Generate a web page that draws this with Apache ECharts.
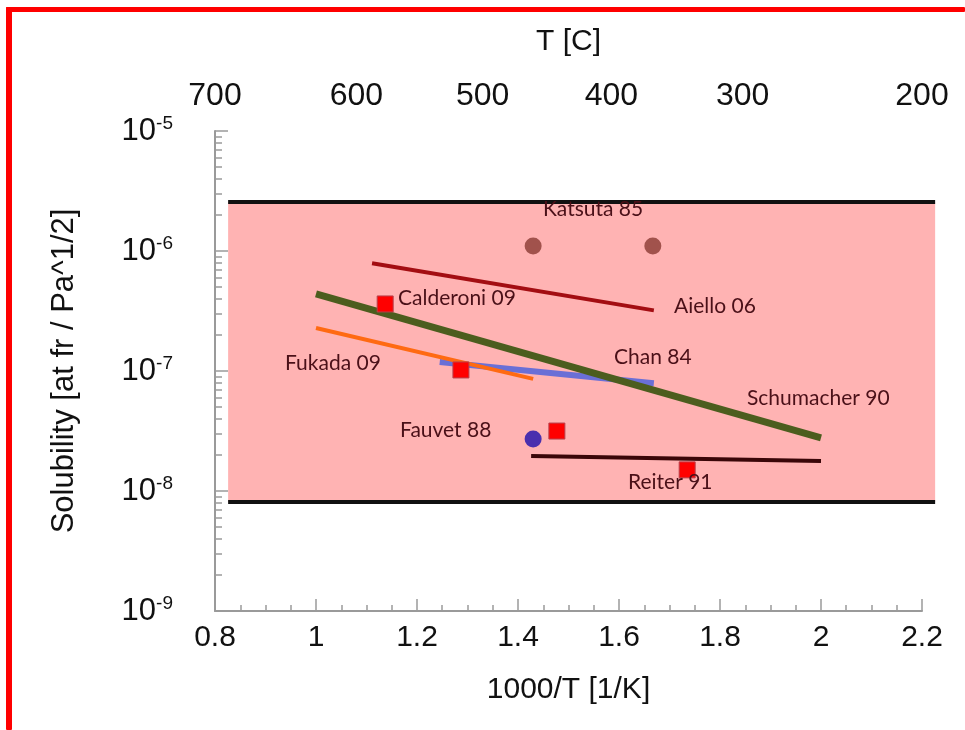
<!DOCTYPE html>
<html>
<head>
<meta charset="utf-8">
<style>
  html, body { margin: 0; padding: 0; background: #fff; }
  #main { width: 965px; height: 730px; }
</style>
<script src="https://cdn.jsdelivr.net/npm/echarts@6/dist/echarts.min.js"></script>
</head>
<body>
<div id="main"></div>
<script>
// data: [1000/T, solubility]
const katsuta = [[1.430, 1.10e-6], [1.667, 1.10e-6]];
const aiello = [[1.111, 7.9e-7], [1.669, 3.2e-7]];
const schumacher = [[1.0, 4.4e-7], [2.0, 2.77e-8]];
const fukada = [[1.0, 2.28e-7], [1.43, 8.6e-8]];
const chan = [[1.245, 1.19e-7], [1.669, 7.9e-8]];
const reiter = [[1.426, 1.96e-8], [2.0, 1.78e-8]];
const redSquares = [[1.137, 3.62e-7], [1.287, 1.02e-7], [1.477, 3.16e-8], [1.735, 1.50e-8]];
const fauvet = [[1.430, 2.71e-8]];
// shaded band: x from, x to, y low, y high
const band = [[0.826, 2.226, 8.1e-9, 2.56e-6]];

// top axis (T in C) labels and where they sit on the 1000/T scale
const topLabels = ['700', '600', '500', '400', '300', '200'];
const topLabelPos = [0.8, 1.08, 1.33, 1.585, 1.845, 2.2];

// minor log ticks for y (exponents, drawn on a helper linear axis)
const minorY = [];
for (let e = -9; e < -5; e++) {
  for (let k = 2; k <= 9; k++) minorY.push(e + Math.log10(k));
}

const axisFont = '"Liberation Sans", Arial, sans-serif';
const noteFont = 'Lato, "Noto Sans", sans-serif';
const noteColor = '#4a1018';

let myChart = echarts.init(document.getElementById('main'));

function note(text, left, cy) {
  return {
    type: 'text', left: left, top: cy - 12, z: 100,
    style: { text: text, fontFamily: noteFont, fontSize: 21, fill: noteColor }
  };
}

let option = {
  animation: false,
  backgroundColor: '#fff',
  grid: { left: 215, right: 43, top: 131, bottom: 119 },
  xAxis: [
    {
      type: 'value', position: 'bottom',
      min: 0.8, max: 2.2, interval: 0.2,
      name: '1000/T [1/K]', nameLocation: 'middle', nameGap: 64,
      nameTextStyle: { fontFamily: axisFont, fontSize: 30, color: '#111' },
      axisLine: { lineStyle: { color: '#9a9a9a', width: 2 } },
      axisTick: { inside: true, length: 12, lineStyle: { color: '#9a9a9a', width: 1.5 } },
      minorTick: { show: true, splitNumber: 4, length: 6, lineStyle: { color: '#9a9a9a', width: 1.5 } },
      axisLabel: { fontFamily: axisFont, fontSize: 30, color: '#111', margin: 12 },
      splitLine: { show: false }
    },
    {
      type: 'value', position: 'top',
      min: 0.8, max: 2.2,
      name: 'T [C]', nameLocation: 'middle', nameGap: 74,
      nameTextStyle: { fontFamily: axisFont, fontSize: 30, color: '#111' },
      axisLine: { show: false },
      axisTick: { show: false },
      axisLabel: {
        customValues: topLabelPos,
        fontFamily: axisFont, fontSize: 32, color: '#111', margin: 19,
        formatter: function (v) {
          let i = topLabelPos.findIndex(p => Math.abs(p - v) < 1e-6);
          return i >= 0 ? topLabels[i] : '';
        }
      },
      splitLine: { show: false }
    }
  ],
  yAxis: [
    {
      type: 'log', logBase: 10, position: 'left',
      min: 1e-9, max: 1e-5,
      name: 'Solubility [at fr / Pa^1/2]', nameLocation: 'middle', nameGap: 135,
      nameTextStyle: { fontFamily: axisFont, fontSize: 31, color: '#111' },
      axisLine: { show: true, lineStyle: { color: '#9a9a9a', width: 2 } },
      axisTick: { inside: true, length: 13, lineStyle: { color: '#9a9a9a', width: 1.5 } },
      axisLabel: {
        margin: 42,
        formatter: function (v) {
          return '{b|10}{s|' + Math.round(Math.log10(v)) + '}';
        },
        rich: {
          b: { fontFamily: axisFont, fontSize: 31, color: '#111', lineHeight: 34 },
          s: { fontFamily: axisFont, fontSize: 19, color: '#111', verticalAlign: 'top', lineHeight: 20 }
        }
      },
      splitLine: { show: false }
    },
    {
      // helper axis for the log minor ticks only
      type: 'value', position: 'left',
      min: -9, max: -5,
      axisLine: { show: false },
      axisLabel: { show: false },
      axisTick: { show: true, inside: true, length: 7, customValues: minorY, lineStyle: { color: '#9a9a9a', width: 1.5 } },
      splitLine: { show: false }
    }
  ],
  series: [
    {
      name: 'band', type: 'custom', z: 1, clip: false,
      data: band,
      renderItem: function (params, api) {
        let p0 = api.coord([api.value(0), api.value(3)]);
        let p1 = api.coord([api.value(1), api.value(2)]);
        return {
          type: 'group',
          children: [
            { type: 'rect', shape: { x: p0[0], y: p0[1], width: p1[0] - p0[0], height: p1[1] - p0[1] },
              style: { fill: '#ffb3b3' } },
            { type: 'line', shape: { x1: p0[0], y1: p0[1], x2: p1[0], y2: p0[1] },
              style: { stroke: '#111', lineWidth: 4 } },
            { type: 'line', shape: { x1: p0[0], y1: p1[1], x2: p1[0], y2: p1[1] },
              style: { stroke: '#111', lineWidth: 4 } }
          ]
        };
      }
    },
    { name: 'Reiter 91', type: 'line', data: reiter, showSymbol: false, z: 3,
      lineStyle: { color: '#3a0608', width: 4 } },
    { name: 'Chan 84', type: 'line', data: chan, showSymbol: false, z: 3,
      lineStyle: { color: '#6a6fd6', width: 6 } },
    { name: 'Fukada 09', type: 'line', data: fukada, showSymbol: false, z: 4,
      lineStyle: { color: '#ff6a12', width: 4 } },
    { name: 'Aiello 06', type: 'line', data: aiello, showSymbol: false, z: 4,
      lineStyle: { color: '#a30d12', width: 4 } },
    { name: 'Schumacher 90', type: 'line', data: schumacher, showSymbol: false, z: 5,
      lineStyle: { color: '#4c5d1e', width: 7 } },
    { name: 'Katsuta 85', type: 'scatter', data: katsuta, symbol: 'circle', symbolSize: 17, z: 6,
      itemStyle: { color: '#a1524c', opacity: 1 } },
    { name: 'Fauvet 88', type: 'scatter', data: fauvet, symbol: 'circle', symbolSize: 17, z: 6,
      itemStyle: { color: '#4a2fae', opacity: 1 } },
    { name: 'red squares', type: 'scatter', data: redSquares, symbol: 'rect', symbolSize: 16, z: 7,
      itemStyle: { color: '#ff0000', borderColor: '#b8404c', borderWidth: 1, opacity: 1 } }
  ],
  graphic: [
    // red frame of the original slide
    { type: 'rect', left: 6, top: 7, shape: { width: 959, height: 5, r: 1 }, style: { fill: '#ff0000' }, z: 100 },
    { type: 'rect', left: 6, top: 7, shape: { width: 6, height: 723, r: 1 }, style: { fill: '#ff0000' }, z: 100 },
    note('Katsuta 85', 543, 211),
    note('Calderoni 09', 398, 300),
    note('Aiello 06', 674, 308),
    note('Chan 84', 614, 359),
    note('Fukada 09', 285, 365),
    note('Schumacher 90', 747, 400),
    note('Fauvet 88', 400, 432),
    note('Reiter 91', 628, 484)
  ]
};

myChart.setOption(option);
window.addEventListener('resize', function () {
  myChart.resize();
});
</script>
</body>
</html>
